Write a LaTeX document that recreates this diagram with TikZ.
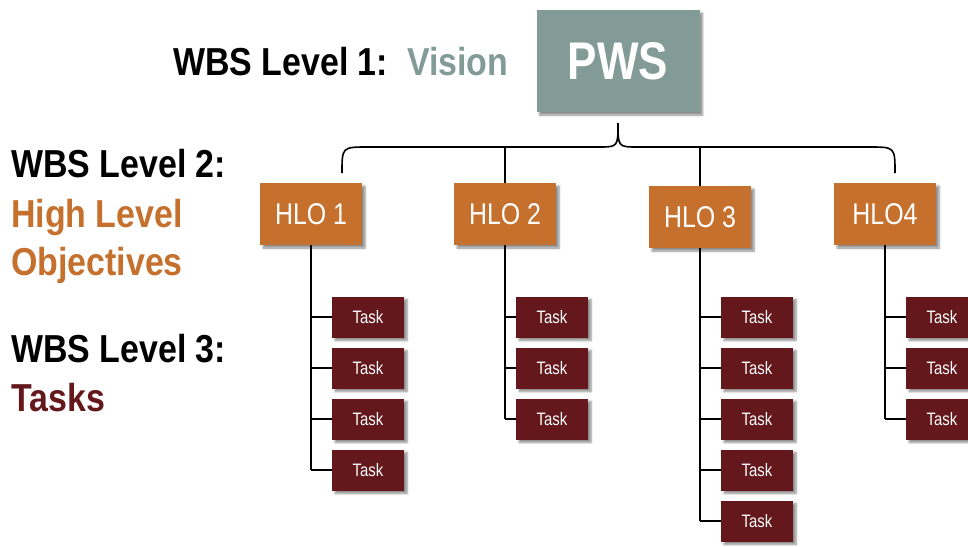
\documentclass[tikz,border=0pt]{standalone}
\usepackage{fontspec}
\setmainfont{Liberation Sans}[FakeStretch=0.83]
\newfontfamily\lvlfont{Liberation Sans}[FakeStretch=0.87]
\usetikzlibrary{calc, positioning, shadows.blur}
\definecolor{pwsgrey}{HTML}{839B97}
\definecolor{hloorange}{HTML}{C6702E}
\definecolor{taskred}{HTML}{64181C}
\newcommand{\drawl}{\draw[line width=1.6pt]}
\newcommand{\draws}{\draw[line width=1.2pt]}

\tikzset{
  boxshadow/.style={blur shadow={shadow xshift=3pt, shadow yshift=-3pt, shadow blur steps=6, shadow opacity=45}},
  pwsbox/.style={fill=pwsgrey, text=white, inner sep=0pt, minimum width=163pt, minimum height=102pt,
    font=\fontsize{53}{53}\selectfont\bfseries, boxshadow},
  hlobox/.style={fill=hloorange, text=white, inner sep=0pt, minimum width=102pt, minimum height=62pt,
    font=\fontsize{30}{30}\selectfont, boxshadow},
  taskbox/.style={fill=taskred, text=white, inner sep=0pt, minimum width=72pt, minimum height=41pt,
    font=\fontsize{18}{18}\selectfont, boxshadow},
  lvltext/.style={anchor=base west, inner sep=0pt, font=\lvlfont\fontsize{39}{39}\selectfont\bfseries}
}

\begin{document}
\begin{tikzpicture}[x=1pt, y=-1pt]
\useasboundingbox (0,0) rectangle (968,546);

% Legende links
\node[lvltext] (lvl1) at (173,75) {WBS Level 1:\ \ \textcolor{pwsgrey}{Vision}};
\node[lvltext] (lvl2) at (11,177) {WBS Level 2:};
\node[lvltext, text=hloorange] (lvl2b) at (11,227) {High Level};
\node[lvltext, text=hloorange] (lvl2c) at (11,275) {Objectives};
\node[lvltext] (lvl3) at (11,362) {WBS Level 3:};
\node[lvltext, text=taskred] (lvl3b) at (11,411) {Tasks};

% Ebene 1 und 2
\node[pwsbox] (pws) at (618,61) {PWS};
\node[hlobox] (hlo1) at (311,214) {HLO 1};
\node[hlobox] (hlo2) at (505,214) {HLO 2};
\node[hlobox] (hlo3) at (700,217) {HLO 3};
\node[hlobox] (hlo4) at (885,214) {HLO4};

% Klammer
\coordinate (cusp) at (618,123);
\coordinate (bar) at (618,147);
\coordinate (bl) at (342,173);
\coordinate (br) at (895,173);
\drawl (bl) .. controls (342,147) .. (368,147) -- (598,147) .. controls (618,147) .. (cusp)
  .. controls (618,147) .. (638,147) -- (869,147) .. controls (895,147) .. (br);
\drawl (hlo2.north) -- (hlo2.north |- bar);
\drawl (hlo3.north) -- (hlo3.north |- bar);

% Ebene 3
\node[taskbox] (t11) at (368,317) {Task};
\node[taskbox] (t12) at (368,368) {Task};
\node[taskbox] (t13) at (368,419) {Task};
\node[taskbox] (t14) at (368,470) {Task};

\node[taskbox] (t21) at (552,317) {Task};
\node[taskbox] (t22) at (552,368) {Task};
\node[taskbox] (t23) at (552,419) {Task};

\node[taskbox] (t31) at (757,317) {Task};
\node[taskbox] (t32) at (757,368) {Task};
\node[taskbox] (t33) at (757,419) {Task};
\node[taskbox] (t34) at (757,470) {Task};
\node[taskbox] (t35) at (757,521) {Task};

\node[taskbox] (t41) at (942,317) {Task};
\node[taskbox] (t42) at (942,368) {Task};
\node[taskbox] (t43) at (942,419) {Task};

% Verbindungen
\drawl (hlo1.south) -- (hlo1.south |- t14.west);
\draws (hlo1.south |- t11.west) -- (t11.west);
\draws (hlo1.south |- t12.west) -- (t12.west);
\draws (hlo1.south |- t13.west) -- (t13.west);
\draws (hlo1.south |- t14.west) -- (t14.west);

\drawl (hlo2.south) -- (hlo2.south |- t23.west);
\draws (hlo2.south |- t21.west) -- (t21.west);
\draws (hlo2.south |- t22.west) -- (t22.west);
\draws (hlo2.south |- t23.west) -- (t23.west);

\drawl (hlo3.south) -- (hlo3.south |- t35.west);
\draws (hlo3.south |- t31.west) -- (t31.west);
\draws (hlo3.south |- t32.west) -- (t32.west);
\draws (hlo3.south |- t33.west) -- (t33.west);
\draws (hlo3.south |- t34.west) -- (t34.west);
\draws (hlo3.south |- t35.west) -- (t35.west);

\drawl (hlo4.south) -- (hlo4.south |- t43.west);
\draws (hlo4.south |- t41.west) -- (t41.west);
\draws (hlo4.south |- t42.west) -- (t42.west);
\draws (hlo4.south |- t43.west) -- (t43.west);

\end{tikzpicture}
\end{document}
